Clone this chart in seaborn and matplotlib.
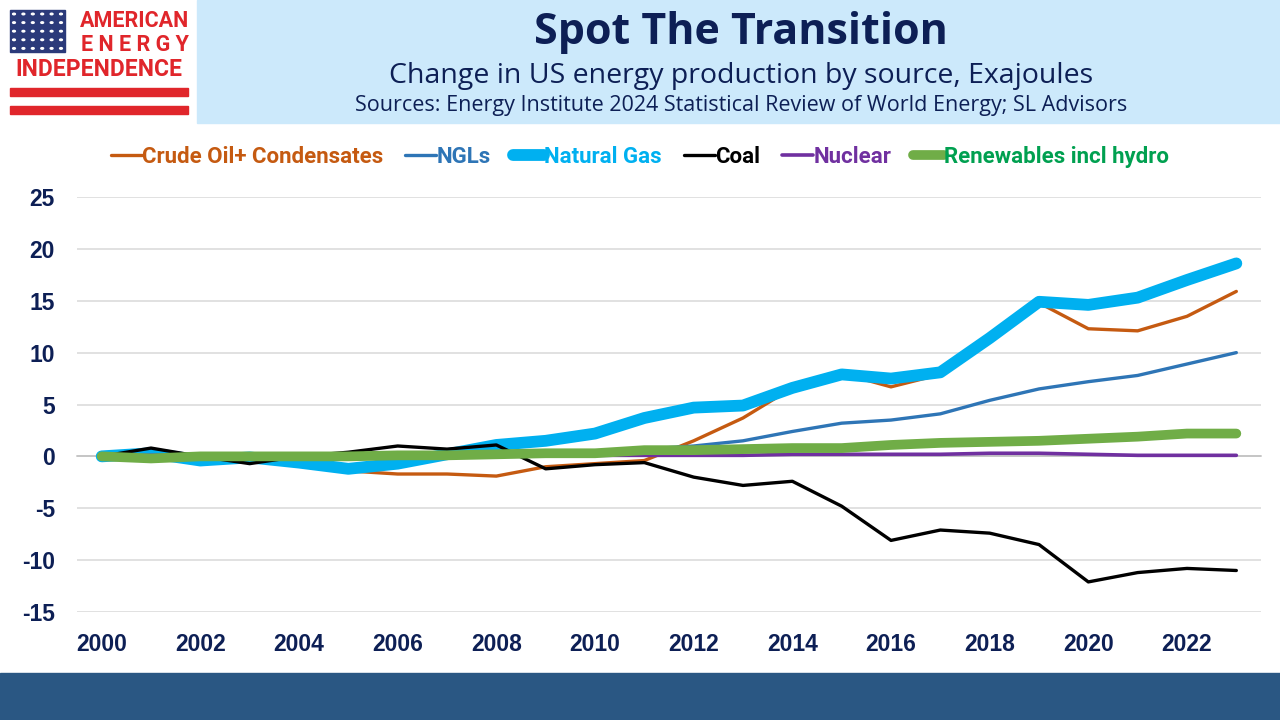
import matplotlib
matplotlib.use("Agg")
import matplotlib.pyplot as plt
import matplotlib.patches as mpatches
from matplotlib.lines import Line2D
import seaborn as sns
import pandas as pd
import numpy as np

# data, change vs 2000 in exajoules
years = list(range(2000, 2024))
crude_oil = [0.0, -0.2, -0.1, -0.5, -0.7, -1.4, -1.7, -1.7, -1.9, -1.0, -0.7, -0.4,
             1.5, 3.7, 6.6, 8.0, 6.7, 7.9, 11.4, 14.8, 12.3, 12.1, 13.5, 15.9]
ngls = [0.0, 0.05, 0.0, -0.1, -0.1, -0.2, -0.1, 0.0, 0.1, 0.3, 0.5, 0.7,
        1.0, 1.5, 2.4, 3.2, 3.5, 4.1, 5.4, 6.5, 7.2, 7.8, 8.9, 10.0]
natural_gas = [0.0, 0.3, -0.4, -0.1, -0.6, -1.2, -0.7, 0.2, 1.1, 1.5, 2.2, 3.7,
               4.7, 4.9, 6.6, 7.9, 7.5, 8.1, 11.4, 14.9, 14.6, 15.3, 17.0, 18.6]
coal = [0.0, 0.8, 0.0, -0.7, 0.0, 0.4, 1.0, 0.7, 1.1, -1.2, -0.8, -0.6,
        -2.0, -2.8, -2.4, -4.8, -8.1, -7.1, -7.4, -8.5, -12.1, -11.2, -10.8, -11.0]
nuclear = [0.0, 0.1, 0.1, 0.0, 0.1, 0.1, 0.1, 0.1, 0.1, 0.1, 0.1, 0.1,
           0.1, 0.1, 0.2, 0.2, 0.2, 0.2, 0.3, 0.3, 0.2, 0.1, 0.1, 0.1]
renewables = [0.0, -0.2, 0.0, 0.0, 0.0, 0.0, 0.1, 0.1, 0.2, 0.3, 0.3, 0.6,
              0.6, 0.7, 0.8, 0.8, 1.1, 1.3, 1.4, 1.5, 1.7, 1.9, 2.2, 2.2]

series_names = ["Crude Oil+ Condensates", "NGLs", "Natural Gas", "Coal",
                "Nuclear", "Renewables incl hydro"]
series_values = [crude_oil, ngls, natural_gas, coal, nuclear, renewables]
colors = ["#C55A11", "#2E75B6", "#00B0F0", "#000000", "#7030A0", "#70AD47"]
text_colors = ["#C55A11", "#2E75B6", "#00B0F0", "#000000", "#7030A0", "#00A050"]
widths = [2.4, 2.4, 8.5, 2.4, 2.6, 7.0]
year_labels = [str(y) for y in years[::2]]

df = pd.DataFrame({"year": np.repeat(years, len(series_names)),
                   "source": series_names * len(years),
                   "value": np.array(series_values).T.ravel()})

sns.set_theme(style="white")
plt.rcParams["font.family"] = ["Liberation Sans", "DejaVu Sans"]
plt.rcParams["axes.unicode_minus"] = False

NAVY = "#0D1F55"
fig = plt.figure(figsize=(12.8, 7.2), dpi=100)

# header band
fig.patches.append(mpatches.Rectangle((197 / 1280, 1 - 123 / 720), 1 - 197 / 1280, 123 / 720,
                                      transform=fig.transFigure, color="#CCE9FB", zorder=0))
# footer band
fig.patches.append(mpatches.Rectangle((0, 0), 1, 47 / 720, transform=fig.transFigure,
                                      color="#2A5783", zorder=0))

# logo
RED = "#E0262B"
fig.patches.append(mpatches.Rectangle((10 / 1280, 1 - 52 / 720), 55 / 1280, 42 / 720,
                                      transform=fig.transFigure, color="#2B3A7A"))
for i in range(6):
    for j in range(5):
        fig.patches.append(mpatches.Circle(((14 + i * 9.4) / 1280, 1 - (14 + j * 8.6) / 720),
                                           0.0011, transform=fig.transFigure, color="white"))
for y0 in (88, 106):
    fig.patches.append(mpatches.Rectangle((10 / 1280, 1 - (y0 + 8) / 720), 178 / 1280, 8 / 720,
                                          transform=fig.transFigure, color=RED))
logo_font = ["Roboto", "DejaVu Sans"]
fig.text(189 / 1280, 1 - 21 / 720, "AMERICAN", color=RED, fontsize=15.5, fontweight="bold",
         ha="right", va="center", family=logo_font)
fig.text(189 / 1280, 1 - 45 / 720, "E N E R G Y", color=RED, fontsize=15.5, fontweight="bold",
         ha="right", va="center", family=logo_font)
fig.text(99 / 1280, 1 - 69 / 720, "INDEPENDENCE", color=RED, fontsize=16.5, fontweight="bold",
         ha="center", va="center", family=logo_font)

# titles
title_font = ["Open Sans", "DejaVu Sans"]
fig.text(741 / 1280, 1 - 33 / 720, "Spot The Transition", color=NAVY, fontsize=31,
         fontweight="bold", ha="center", va="center", family=title_font)
fig.text(741 / 1280, 1 - 76 / 720, "Change in US energy production by source, Exajoules",
         color=NAVY, fontsize=20.5, ha="center", va="center", family=title_font)
fig.text(741 / 1280, 1 - 105 / 720,
         "Sources: Energy Institute 2024 Statistical Review of World Energy; SL Advisors",
         color=NAVY, fontsize=15.5, ha="center", va="center", family=title_font)

ax = fig.add_axes([77 / 1280, 1 - 612 / 720, (1261 - 77) / 1280, (612 - 197) / 720])
for name, col, lw in zip(series_names, colors, widths):
    sns.lineplot(data=df[df["source"] == name], x="year", y="value", color=col,
                 linewidth=lw, ax=ax, solid_capstyle="round", solid_joinstyle="round",
                 legend=False, zorder=3)

ax.set_xlim(1999.5, 2023.5)
ax.set_ylim(-15, 25)
ax.set_yticks(np.arange(-15, 26, 5))
ax.yaxis.grid(True, color="#D9D9D9", linewidth=1.1)
ax.set_xlabel("")
ax.set_ylabel("")
for s in ["top", "right", "left"]:
    ax.spines[s].set_visible(False)
ax.spines["bottom"].set_position(("data", 0))
ax.spines["bottom"].set_color("#BFBFBF")
ax.spines["bottom"].set_linewidth(1.1)
ax.spines["bottom"].set_zorder(2)
ax.set_xticks(np.arange(1999.5, 2024, 1))
ax.tick_params(axis="x", direction="out", length=6, color="#BFBFBF", labelbottom=False)
ax.tick_params(axis="y", length=0, pad=16, labelsize=16.5, labelcolor=NAVY)
for t in ax.get_yticklabels():
    t.set_fontweight("bold")

sec = ax.secondary_xaxis("bottom")
sec.set_xticks(years[::2])
sec.set_xticklabels(year_labels)
sec.tick_params(length=0, pad=15, labelsize=16.5, labelcolor=NAVY)
sec.spines["bottom"].set_visible(False)
for t in sec.get_xticklabels():
    t.set_fontweight("bold")

handles = [Line2D([0], [0], color=c, linewidth=lw, solid_capstyle="round")
           for c, lw in zip(colors, widths)]
leg = fig.legend(handles, series_names, loc="center", bbox_to_anchor=(0.50, 1 - 157 / 720),
                 ncol=6, frameon=False, handlelength=1.4, handletextpad=0.0, columnspacing=1.0,
                 prop={"family": ["Roboto", "DejaVu Sans"], "weight": "bold", "size": 16})
for txt, c in zip(leg.get_texts(), text_colors):
    txt.set_color(c)

fig.savefig("out.png", dpi=100)
